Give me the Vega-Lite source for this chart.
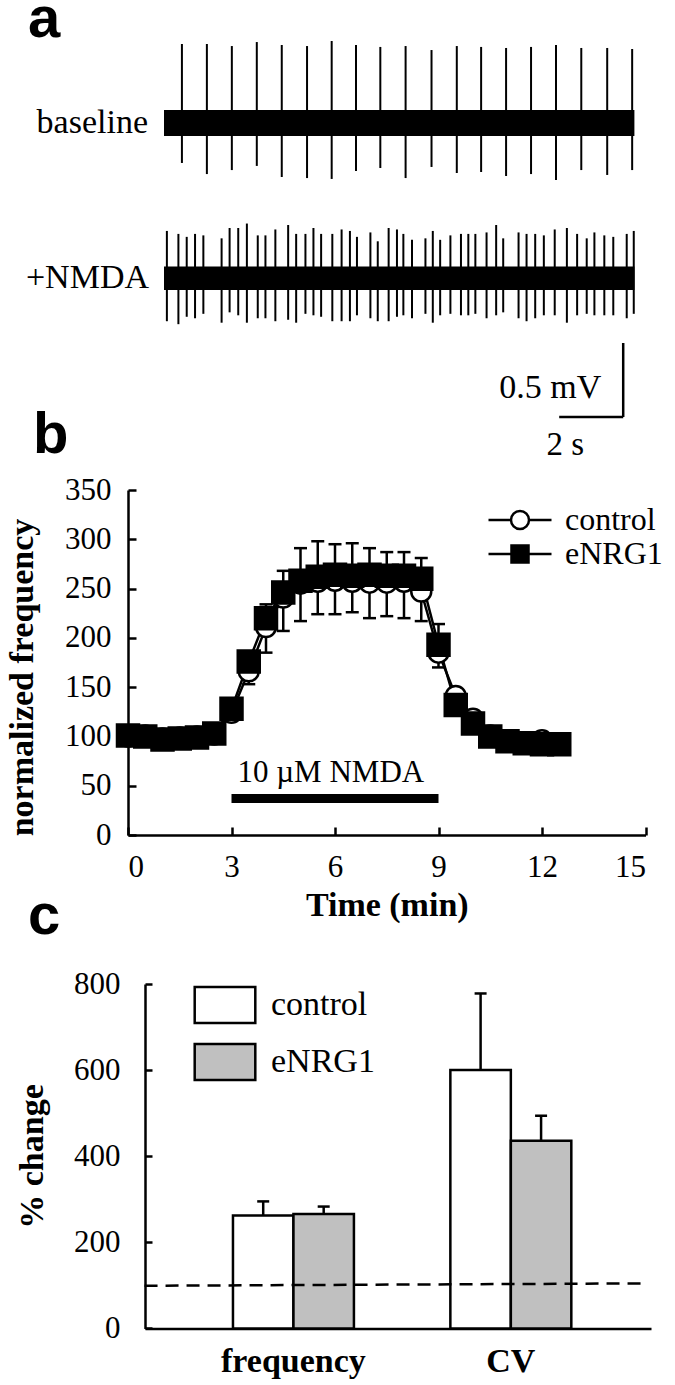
{
  "$schema": "https://vega.github.io/schema/vega-lite/v6.json",
  "autosize": {"type": "pad"},
  "padding": {"left": 4, "top": -9, "right": 5, "bottom": 5},
  "background": "white",
  "spacing": 149,
  "bounds": "flush",
  "resolve": {
    "scale": {"fill": "independent", "shape": "independent", "size": "independent"},
    "legend": {"fill": "independent", "shape": "independent", "size": "independent"}
  },
  "config": {
    "view": {"stroke": null},
    "font": "Liberation Serif",
    "axis": {"domainColor": "black", "domainWidth": 2.5, "tickColor": "black", "tickWidth": 2.5, "labelColor": "black", "labelFont": "Liberation Serif", "labelFontSize": 31, "titleColor": "black", "titleFont": "Liberation Serif", "titleFontWeight": "bold", "titleFontSize": 34, "grid": false},
    "legend": {"labelFont": "Liberation Serif", "labelColor": "black"},
    "title": {"font": "Liberation Sans", "fontWeight": "bold", "fontSize": 58, "color": "black", "anchor": "start", "frame": "group"}
  },
  "datasets": {
    "bands": [
      {"trace": "baseline", "label": "baseline", "start": 0, "end": 14.7, "lo": -0.088, "hi": 0.088},
      {"trace": "NMDA", "label": "+NMDA", "start": 0, "end": 14.7, "lo": -0.079, "hi": 0.079}
    ],
    "spikes": [
      {"trace": "baseline", "t": 0.56, "top": 0.534, "bottom": -0.27},
      {"trace": "baseline", "t": 1.34, "top": 0.534, "bottom": -0.345},
      {"trace": "baseline", "t": 2.12, "top": 0.52, "bottom": -0.318},
      {"trace": "baseline", "t": 2.9, "top": 0.547, "bottom": -0.29},
      {"trace": "baseline", "t": 3.68, "top": 0.527, "bottom": -0.365},
      {"trace": "baseline", "t": 4.47, "top": 0.52, "bottom": -0.372},
      {"trace": "baseline", "t": 5.24, "top": 0.554, "bottom": -0.378},
      {"trace": "baseline", "t": 6.0, "top": 0.527, "bottom": -0.324},
      {"trace": "baseline", "t": 6.76, "top": 0.514, "bottom": -0.304},
      {"trace": "baseline", "t": 7.55, "top": 0.52, "bottom": -0.372},
      {"trace": "baseline", "t": 8.36, "top": 0.493, "bottom": -0.297},
      {"trace": "baseline", "t": 9.15, "top": 0.52, "bottom": -0.338},
      {"trace": "baseline", "t": 9.91, "top": 0.514, "bottom": -0.331},
      {"trace": "baseline", "t": 10.69, "top": 0.507, "bottom": -0.358},
      {"trace": "baseline", "t": 11.47, "top": 0.514, "bottom": -0.345},
      {"trace": "baseline", "t": 12.25, "top": 0.527, "bottom": -0.385},
      {"trace": "baseline", "t": 13.04, "top": 0.507, "bottom": -0.318},
      {"trace": "baseline", "t": 13.85, "top": 0.507, "bottom": -0.351},
      {"trace": "baseline", "t": 14.63, "top": 0.5, "bottom": -0.318},
      {"trace": "NMDA", "t": 0.09, "top": 0.32, "bottom": -0.29},
      {"trace": "NMDA", "t": 0.45, "top": 0.30, "bottom": -0.31},
      {"trace": "NMDA", "t": 0.71, "top": 0.28, "bottom": -0.26},
      {"trace": "NMDA", "t": 0.97, "top": 0.30, "bottom": -0.27},
      {"trace": "NMDA", "t": 1.23, "top": 0.29, "bottom": -0.24},
      {"trace": "NMDA", "t": 1.80, "top": 0.27, "bottom": -0.30},
      {"trace": "NMDA", "t": 2.05, "top": 0.34, "bottom": -0.23},
      {"trace": "NMDA", "t": 2.32, "top": 0.34, "bottom": -0.25},
      {"trace": "NMDA", "t": 2.59, "top": 0.37, "bottom": -0.30},
      {"trace": "NMDA", "t": 2.93, "top": 0.29, "bottom": -0.27},
      {"trace": "NMDA", "t": 3.17, "top": 0.29, "bottom": -0.27},
      {"trace": "NMDA", "t": 3.48, "top": 0.33, "bottom": -0.29},
      {"trace": "NMDA", "t": 3.88, "top": 0.36, "bottom": -0.28},
      {"trace": "NMDA", "t": 4.13, "top": 0.30, "bottom": -0.30},
      {"trace": "NMDA", "t": 4.42, "top": 0.30, "bottom": -0.24},
      {"trace": "NMDA", "t": 4.67, "top": 0.34, "bottom": -0.25},
      {"trace": "NMDA", "t": 4.91, "top": 0.30, "bottom": -0.26},
      {"trace": "NMDA", "t": 5.26, "top": 0.30, "bottom": -0.29},
      {"trace": "NMDA", "t": 5.55, "top": 0.33, "bottom": -0.29},
      {"trace": "NMDA", "t": 5.81, "top": 0.32, "bottom": -0.29},
      {"trace": "NMDA", "t": 6.03, "top": 0.28, "bottom": -0.25},
      {"trace": "NMDA", "t": 6.45, "top": 0.31, "bottom": -0.27},
      {"trace": "NMDA", "t": 6.68, "top": 0.25, "bottom": -0.29},
      {"trace": "NMDA", "t": 7.02, "top": 0.34, "bottom": -0.29},
      {"trace": "NMDA", "t": 7.28, "top": 0.33, "bottom": -0.26},
      {"trace": "NMDA", "t": 7.48, "top": 0.30, "bottom": -0.25},
      {"trace": "NMDA", "t": 7.75, "top": 0.26, "bottom": -0.27},
      {"trace": "NMDA", "t": 8.17, "top": 0.27, "bottom": -0.24},
      {"trace": "NMDA", "t": 8.40, "top": 0.32, "bottom": -0.30},
      {"trace": "NMDA", "t": 8.63, "top": 0.26, "bottom": -0.25},
      {"trace": "NMDA", "t": 8.95, "top": 0.29, "bottom": -0.24},
      {"trace": "NMDA", "t": 9.28, "top": 0.30, "bottom": -0.25},
      {"trace": "NMDA", "t": 9.51, "top": 0.30, "bottom": -0.25},
      {"trace": "NMDA", "t": 9.73, "top": 0.30, "bottom": -0.24},
      {"trace": "NMDA", "t": 10.08, "top": 0.31, "bottom": -0.27},
      {"trace": "NMDA", "t": 10.38, "top": 0.36, "bottom": -0.25},
      {"trace": "NMDA", "t": 10.60, "top": 0.27, "bottom": -0.23},
      {"trace": "NMDA", "t": 11.08, "top": 0.31, "bottom": -0.27},
      {"trace": "NMDA", "t": 11.33, "top": 0.30, "bottom": -0.29},
      {"trace": "NMDA", "t": 11.60, "top": 0.30, "bottom": -0.27},
      {"trace": "NMDA", "t": 11.87, "top": 0.29, "bottom": -0.25},
      {"trace": "NMDA", "t": 12.21, "top": 0.33, "bottom": -0.25},
      {"trace": "NMDA", "t": 12.59, "top": 0.34, "bottom": -0.30},
      {"trace": "NMDA", "t": 12.91, "top": 0.30, "bottom": -0.25},
      {"trace": "NMDA", "t": 13.21, "top": 0.27, "bottom": -0.24},
      {"trace": "NMDA", "t": 13.45, "top": 0.31, "bottom": -0.25},
      {"trace": "NMDA", "t": 13.76, "top": 0.29, "bottom": -0.25},
      {"trace": "NMDA", "t": 14.04, "top": 0.28, "bottom": -0.25},
      {"trace": "NMDA", "t": 14.46, "top": 0.30, "bottom": -0.27},
      {"trace": "NMDA", "t": 14.68, "top": 0.32, "bottom": -0.24}
    ],
    "scalebar": [
      {"part": "voltage", "t1": 14.35, "t2": 14.35, "v1": 0, "v2": 0.5, "label": "0.5 mV", "tl": 14.35, "vl": 0.25},
      {"part": "time", "t1": 12.35, "t2": 14.35, "v1": 0, "v2": 0, "label": "2 s", "tl": 13.35, "vl": 0}
    ],
    "freq": [
      {"t": 0, "group": "control", "v": 100, "cap": 97},
      {"t": 0.5, "group": "control", "v": 101, "cap": 98},
      {"t": 1, "group": "control", "v": 98, "cap": 95},
      {"t": 1.5, "group": "control", "v": 99, "cap": 96},
      {"t": 2, "group": "control", "v": 100, "cap": 97},
      {"t": 2.5, "group": "control", "v": 102, "cap": 99},
      {"t": 3, "group": "control", "v": 124, "cap": 118},
      {"t": 3.5, "group": "control", "v": 166, "cap": 153},
      {"t": 4, "group": "control", "v": 211, "cap": 185},
      {"t": 4.5, "group": "control", "v": 241, "cap": 207},
      {"t": 5, "group": "control", "v": 255, "cap": 217},
      {"t": 5.5, "group": "control", "v": 257, "cap": 224},
      {"t": 6, "group": "control", "v": 258, "cap": 224},
      {"t": 6.5, "group": "control", "v": 257, "cap": 226},
      {"t": 7, "group": "control", "v": 256, "cap": 220},
      {"t": 7.5, "group": "control", "v": 256, "cap": 222},
      {"t": 8, "group": "control", "v": 257, "cap": 220},
      {"t": 8.5, "group": "control", "v": 247, "cap": 217},
      {"t": 9, "group": "control", "v": 185, "cap": 170},
      {"t": 9.5, "group": "control", "v": 141, "cap": 133},
      {"t": 10, "group": "control", "v": 118, "cap": 110},
      {"t": 10.5, "group": "control", "v": 101, "cap": 96},
      {"t": 11, "group": "control", "v": 96, "cap": 92},
      {"t": 11.5, "group": "control", "v": 94, "cap": 91},
      {"t": 12, "group": "control", "v": 96, "cap": 93},
      {"t": 12.5, "group": "control", "v": 93, "cap": 90},
      {"t": 0, "group": "eNRG1", "v": 101, "cap": 104},
      {"t": 0.5, "group": "eNRG1", "v": 100, "cap": 103},
      {"t": 1, "group": "eNRG1", "v": 97, "cap": 100},
      {"t": 1.5, "group": "eNRG1", "v": 98, "cap": 101},
      {"t": 2, "group": "eNRG1", "v": 99, "cap": 102},
      {"t": 2.5, "group": "eNRG1", "v": 103, "cap": 106},
      {"t": 3, "group": "eNRG1", "v": 128, "cap": 133},
      {"t": 3.5, "group": "eNRG1", "v": 176, "cap": 184},
      {"t": 4, "group": "eNRG1", "v": 220, "cap": 234},
      {"t": 4.5, "group": "eNRG1", "v": 246, "cap": 268},
      {"t": 5, "group": "eNRG1", "v": 258, "cap": 291},
      {"t": 5.5, "group": "eNRG1", "v": 262, "cap": 298},
      {"t": 6, "group": "eNRG1", "v": 264, "cap": 295},
      {"t": 6.5, "group": "eNRG1", "v": 263, "cap": 296},
      {"t": 7, "group": "eNRG1", "v": 264, "cap": 291},
      {"t": 7.5, "group": "eNRG1", "v": 263, "cap": 287},
      {"t": 8, "group": "eNRG1", "v": 263, "cap": 287},
      {"t": 8.5, "group": "eNRG1", "v": 260, "cap": 281},
      {"t": 9, "group": "eNRG1", "v": 193, "cap": 214},
      {"t": 9.5, "group": "eNRG1", "v": 132, "cap": 140},
      {"t": 10, "group": "eNRG1", "v": 113, "cap": 118},
      {"t": 10.5, "group": "eNRG1", "v": 100, "cap": 104},
      {"t": 11, "group": "eNRG1", "v": 95, "cap": 98},
      {"t": 11.5, "group": "eNRG1", "v": 93, "cap": 96},
      {"t": 12, "group": "eNRG1", "v": 92, "cap": 95},
      {"t": 12.5, "group": "eNRG1", "v": 92, "cap": 95}
    ],
    "nmda": [{"start": 3, "end": 9, "level": 37, "label": "10 µM NMDA"}],
    "change": [
      {"measure": "frequency", "group": "control", "v": 262, "cap": 295},
      {"measure": "frequency", "group": "eNRG1", "v": 266, "cap": 283},
      {"measure": "CV", "group": "control", "v": 600, "cap": 778},
      {"measure": "CV", "group": "eNRG1", "v": 436, "cap": 494}
    ]
  },
  "vconcat": [
    {
      "width": 518,
      "height": 310.3,
      "title": {"text": "a", "dx": -100, "dy": 23},
      "layer": [
        {
          "layer": [
            {
              "data": {"name": "bands"},
              "transform": [{"filter": "datum.trace === 'baseline'"}],
              "mark": {"type": "rect", "color": "black"},
              "encoding": {
                "x": {"field": "start", "type": "quantitative", "scale": {"domain": [-1.125, 15.0625], "nice": false, "zero": false}, "axis": null},
                "x2": {"field": "end"},
                "y": {"field": "lo", "type": "quantitative", "scale": {"domain": [-1.4682, 0.6284], "nice": false, "zero": false}, "axis": null},
                "y2": {"field": "hi"}
              }
            },
            {
              "data": {"name": "spikes"},
              "transform": [{"filter": "datum.trace === 'baseline'"}],
              "mark": {"type": "rule", "color": "black", "strokeWidth": 2},
              "encoding": {
                "x": {"field": "t", "type": "quantitative", "scale": {"domain": [-1.125, 15.0625], "nice": false, "zero": false}, "axis": null},
                "y": {"field": "top", "type": "quantitative", "axis": null},
                "y2": {"field": "bottom"}
              }
            },
            {
              "data": {"name": "bands"},
              "transform": [{"filter": "datum.trace === 'baseline'"}],
              "mark": {"type": "text", "align": "right", "baseline": "middle", "dx": -16, "fontSize": 34, "color": "black"},
              "encoding": {
                "x": {"field": "start", "type": "quantitative", "scale": {"domain": [-1.125, 15.0625], "nice": false, "zero": false}, "axis": null},
                "y": {"datum": 0, "type": "quantitative", "axis": null},
                "text": {"field": "label"}
              }
            }
          ]
        },
        {
          "layer": [
            {
              "data": {"name": "bands"},
              "transform": [{"filter": "datum.trace === 'NMDA'"}],
              "mark": {"type": "rect", "color": "black"},
              "encoding": {
                "x": {"field": "start", "type": "quantitative", "scale": {"domain": [-1.125, 15.0625], "nice": false, "zero": false}, "axis": null},
                "x2": {"field": "end"},
                "y": {"field": "lo", "type": "quantitative", "scale": {"domain": [-0.4189, 1.6777], "nice": false, "zero": false}, "axis": null},
                "y2": {"field": "hi"}
              }
            },
            {
              "data": {"name": "spikes"},
              "transform": [{"filter": "datum.trace === 'NMDA'"}],
              "mark": {"type": "rule", "color": "black", "strokeWidth": 2},
              "encoding": {
                "x": {"field": "t", "type": "quantitative", "scale": {"domain": [-1.125, 15.0625], "nice": false, "zero": false}, "axis": null},
                "y": {"field": "top", "type": "quantitative", "axis": null},
                "y2": {"field": "bottom"}
              }
            },
            {
              "data": {"name": "bands"},
              "transform": [{"filter": "datum.trace === 'NMDA'"}],
              "mark": {"type": "text", "align": "right", "baseline": "middle", "dx": -15, "fontSize": 34, "color": "black"},
              "encoding": {
                "x": {"field": "start", "type": "quantitative", "scale": {"domain": [-1.125, 15.0625], "nice": false, "zero": false}, "axis": null},
                "y": {"datum": 0, "type": "quantitative", "axis": null},
                "text": {"field": "label"}
              }
            }
          ]
        },
        {
          "layer": [
            {
              "data": {"name": "scalebar"},
              "mark": {"type": "rule", "color": "black", "strokeWidth": 2.5},
              "encoding": {
                "x": {"field": "t1", "type": "quantitative", "scale": {"domain": [-1.125, 15.0625], "nice": false, "zero": false}, "axis": null},
                "x2": {"field": "t2"},
                "y": {"field": "v1", "type": "quantitative", "scale": {"domain": [0.5183, 2.6149], "nice": false, "zero": false}, "axis": null},
                "y2": {"field": "v2"}
              }
            },
            {
              "data": {"name": "scalebar"},
              "transform": [{"filter": "datum.part === 'voltage'"}],
              "mark": {"type": "text", "align": "right", "baseline": "middle", "dx": -22, "dy": 8, "fontSize": 34, "color": "black"},
              "encoding": {
                "x": {"field": "tl", "type": "quantitative", "scale": {"domain": [-1.125, 15.0625], "nice": false, "zero": false}, "axis": null},
                "y": {"field": "vl", "type": "quantitative", "axis": null},
                "text": {"field": "label"}
              }
            },
            {
              "data": {"name": "scalebar"},
              "transform": [{"filter": "datum.part === 'time'"}],
              "mark": {"type": "text", "align": "center", "baseline": "top", "dx": -26, "dy": 12, "fontSize": 33, "color": "black"},
              "encoding": {
                "x": {"field": "tl", "type": "quantitative", "scale": {"domain": [-1.125, 15.0625], "nice": false, "zero": false}, "axis": null},
                "y": {"field": "vl", "type": "quantitative", "axis": null},
                "text": {"field": "label"}
              }
            }
          ]
        }
      ],
      "resolve": {"scale": {"y": "independent"}, "axis": {"y": "independent"}}
    },
    {
      "width": 517.5,
      "height": 345,
      "title": {"text": "b", "dx": -95, "dy": -5},
      "data": {"name": "freq"},
      "resolve": {"scale": {"fill": "independent", "shape": "independent"}, "legend": {"fill": "independent", "shape": "independent"}},
      "layer": [
        {
          "mark": {"type": "line", "color": "black", "strokeWidth": 2.5},
          "encoding": {
            "x": {"field": "t", "type": "quantitative", "scale": {"domain": [0, 15], "nice": false, "padding": 0, "zero": false},
                  "axis": {"values": [0, 3, 6, 9, 12, 15], "tickSize": -8, "labelPadding": 25, "title": "Time (min)", "titlePadding": 6}},
            "y": {"field": "v", "type": "quantitative", "scale": {"domain": [0, 350], "nice": false, "padding": 0},
                  "axis": {"values": [0, 50, 100, 150, 200, 250, 300, 350], "tickSize": -8, "labelPadding": 25, "title": "normalized frequency", "titleX": -106, "titleY": 187, "titleAngle": -90, "titleBaseline": "middle", "titleAlign": "center"}},
            "detail": {"field": "group", "type": "nominal"}
          }
        },
        {
          "mark": {"type": "rule", "color": "black", "strokeWidth": 2.5},
          "encoding": {
            "x": {"field": "t", "type": "quantitative"},
            "y": {"field": "v", "type": "quantitative"},
            "y2": {"field": "cap"}
          }
        },
        {
          "mark": {"type": "tick", "orient": "horizontal", "color": "black", "size": 13, "thickness": 2.5, "opacity": 1},
          "encoding": {
            "x": {"field": "t", "type": "quantitative"},
            "y": {"field": "cap", "type": "quantitative"}
          }
        },
        {
          "mark": {"type": "point", "filled": true, "stroke": "black", "strokeWidth": 2.5, "opacity": 1},
          "encoding": {
            "x": {"field": "t", "type": "quantitative"},
            "y": {"field": "v", "type": "quantitative"},
            "shape": {"field": "group", "type": "nominal", "scale": {"domain": ["control", "eNRG1"], "range": ["circle", "square"]}, "legend": null},
            "fill": {"field": "group", "type": "nominal", "scale": {"domain": ["control", "eNRG1"], "range": ["white", "black"]}, "legend": null},
            "size": {"field": "group", "type": "ordinal", "scale": {"domain": ["control", "eNRG1"], "range": [400, 484]}, "legend": null}
          }
        },
        {
          "transform": [{"filter": "datum.t < 0"}],
          "mark": {"type": "bar", "stroke": "black", "strokeWidth": 2.5, "opacity": 1},
          "encoding": {
            "x": {"field": "t", "type": "quantitative"},
            "y": {"field": "v", "type": "quantitative"},
            "fill": {"field": "group", "type": "nominal", "scale": {"domain": ["control"], "range": ["white"]},
              "legend": {"title": null, "orient": "none", "legendX": 359, "legendY": -3, "labelFontSize": 32, "labelOffset": 12,
                "symbolType": "M-1,0L-0.286,0M0.286,0L1,0M-0.286,0A0.286,0.286,0,1,0,0.286,0A0.286,0.286,0,1,0,-0.286,0Z",
                "symbolSize": 3969, "symbolStrokeColor": "black", "symbolStrokeWidth": 2.5, "symbolOpacity": 1}}
          }
        },
        {
          "transform": [{"filter": "datum.t < 0"}],
          "mark": {"type": "bar", "stroke": "black", "strokeWidth": 2.5, "opacity": 1},
          "encoding": {
            "x": {"field": "t", "type": "quantitative"},
            "y": {"field": "v", "type": "quantitative"},
            "fill": {"field": "group", "type": "nominal", "scale": {"domain": ["eNRG1"], "range": ["black"]},
              "legend": {"title": null, "orient": "none", "legendX": 359, "legendY": 31, "labelFontSize": 32, "labelOffset": 12,
                "symbolType": "M-1,0L1,0M-0.27,-0.27L0.27,-0.27L0.27,0.27L-0.27,0.27Z",
                "symbolSize": 3969, "symbolStrokeColor": "black", "symbolStrokeWidth": 2.5, "symbolOpacity": 1}}
          }
        },
        {
          "data": {"name": "nmda"},
          "mark": {"type": "rule", "color": "black", "strokeWidth": 9},
          "encoding": {
            "x": {"field": "start", "type": "quantitative"},
            "x2": {"field": "end"},
            "y": {"field": "level", "type": "quantitative"}
          }
        },
        {
          "data": {"name": "nmda"},
          "mark": {"type": "text", "align": "left", "baseline": "alphabetic", "dx": 6, "dy": -17, "fontSize": 31, "color": "black"},
          "encoding": {
            "x": {"field": "start", "type": "quantitative"},
            "y": {"field": "level", "type": "quantitative"},
            "text": {"field": "label"}
          }
        }
      ]
    },
    {
      "width": 523,
      "height": 344.4,
      "title": {"text": "c", "dx": -100, "dy": -18},
      "data": {"name": "change"},
      "layer": [
        {
          "mark": {"type": "bar", "stroke": "black", "strokeWidth": 2.5, "opacity": 1},
          "encoding": {
            "x": {"field": "measure", "type": "nominal", "sort": ["frequency", "CV"],
                  "scale": {"domain": ["frequency", "CV"], "range": [17, 523], "paddingInner": 0.4436, "paddingOuter": 0.3856, "align": 0.5247},
                  "axis": {"title": null, "ticks": false, "labelAngle": 0, "labelFontWeight": "bold", "labelFontSize": 34, "labelPadding": 16}},
            "xOffset": {"field": "group", "type": "nominal", "scale": {"domain": ["control", "eNRG1"], "paddingInner": 0, "paddingOuter": 0}},
            "y": {"field": "v", "type": "quantitative", "scale": {"domain": [0, 800], "nice": false},
                  "axis": {"values": [0, 200, 400, 600, 800], "offset": -17, "tickSize": -7, "labelPadding": 32, "title": "% change", "titleX": -113, "titleY": 172, "titleAngle": -90, "titleBaseline": "middle", "titleAlign": "center"}},
            "fill": {"field": "group", "type": "nominal", "scale": {"domain": ["control", "eNRG1"], "range": ["white", "#c0c0c0"]},
              "legend": {"title": null, "orient": "none", "legendX": 65, "legendY": -11, "labelFontSize": 34, "labelOffset": 14, "rowPadding": 2, "symbolType": "M-1,-0.59L1,-0.59L1,0.59L-1,0.59Z", "symbolSize": 3672, "symbolStrokeColor": "black", "symbolStrokeWidth": 2.5, "symbolOpacity": 1}}
          }
        },
        {
          "mark": {"type": "rule", "color": "black", "strokeWidth": 2.5},
          "encoding": {
            "x": {"field": "measure", "type": "nominal", "sort": ["frequency", "CV"]},
            "xOffset": {"field": "group", "type": "nominal"},
            "y": {"field": "v", "type": "quantitative"},
            "y2": {"field": "cap"}
          }
        },
        {
          "mark": {"type": "tick", "orient": "horizontal", "color": "black", "size": 12, "thickness": 2.5, "opacity": 1},
          "encoding": {
            "x": {"field": "measure", "type": "nominal", "sort": ["frequency", "CV"]},
            "xOffset": {"field": "group", "type": "nominal"},
            "y": {"field": "cap", "type": "quantitative"}
          }
        },
        {
          "data": {"values": [{"level": 99, "level2": 104.5}]},
          "mark": {"type": "rule", "color": "black", "strokeWidth": 2.5, "strokeDash": [13, 8]},
          "encoding": {
            "x": {"datum": "frequency", "type": "nominal", "bandPosition": -0.731},
            "x2": {"datum": "CV", "bandPosition": 1.581},
            "y": {"field": "level", "type": "quantitative"},
            "y2": {"field": "level2"}
          }
        }
      ]
    }
  ]
}
